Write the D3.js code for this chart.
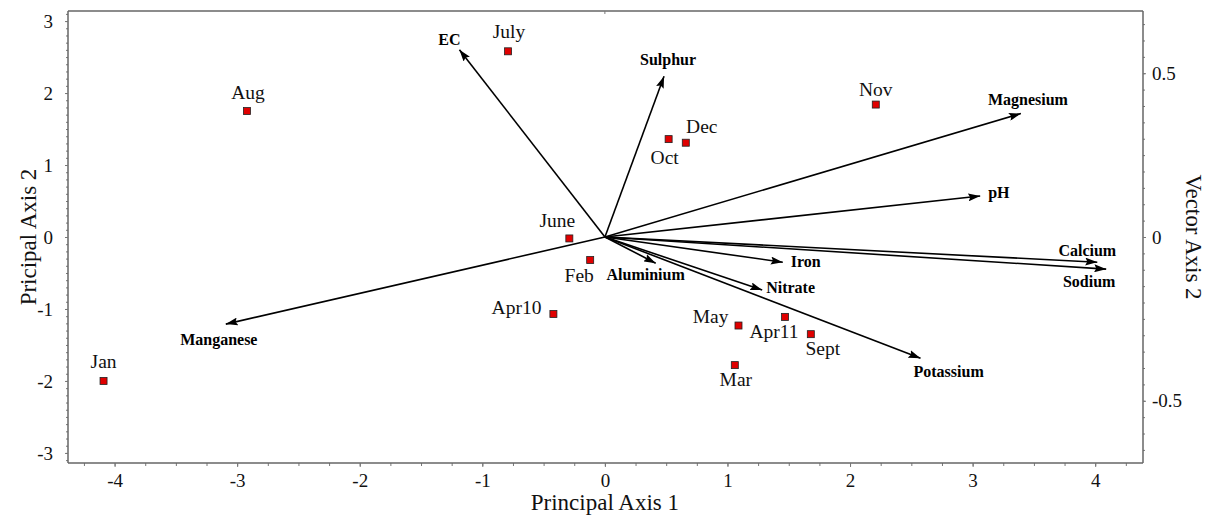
<!DOCTYPE html>
<html>
<head>
<meta charset="utf-8">
<script src="https://cdnjs.cloudflare.com/ajax/libs/d3/7.8.5/d3.min.js"></script>
<style>
  body { margin: 0; background: #fff; }
  svg { display: block; font-family: "Liberation Serif", "Times New Roman", serif; }
  .tick text { font-size: 19px; fill: #111; font-family: "Liberation Serif", "Times New Roman", serif; }
  .domain { stroke: #666; stroke-width: 1.5; }
  .tick line { stroke: #777; }
</style>
</head>
<body>
<svg id="chart"></svg>
<script>
var width = 1214;
var height = 519;

// sample scores (principal axes)
var months = ["Jan", "Aug", "July", "June", "Feb", "Apr10", "May", "Apr11", "Sept", "Mar", "Oct", "Dec", "Nov"];
var axis1 = [-4.09, -2.92, -0.79, -0.29, -0.12, -0.42, 1.09, 1.47, 1.68, 1.06, 0.52, 0.66, 2.21];
var axis2 = [-2.00, 1.75, 2.58, -0.02, -0.32, -1.07, -1.23, -1.11, -1.35, -1.78, 1.36, 1.31, 1.84];

// variable vectors
var variables = ["EC", "Sulphur", "Magnesium", "pH", "Calcium", "Sodium", "Iron", "Nitrate", "Aluminium", "Potassium", "Manganese"];
var vec1 = [-0.261, 0.106, 0.746, 0.673, 0.883, 0.899, 0.319, 0.282, 0.091, 0.566, -0.680];
var vec2 = [0.572, 0.491, 0.377, 0.125, -0.077, -0.098, -0.077, -0.162, -0.080, -0.370, -0.266];

var xTicks = [-4, -3, -2, -1, 0, 1, 2, 3, 4];
var yTicks = [-3, -2, -1, 0, 1, 2, 3];
var vTicks = [-0.5, 0, 0.5];

// label placement (offset from point, text anchor)
var monthLabel = {
  "Jan": [0, -13, "middle"], "Aug": [1, -12, "middle"], "July": [1, -13, "middle"],
  "June": [-12, -11, "middle"], "Feb": [-11, 22, "middle"], "Apr10": [-12, 0, "end"],
  "May": [-10, -3, "end"], "Apr11": [-11, 21, "middle"], "Sept": [12, 21, "middle"],
  "Mar": [1, 21, "middle"], "Oct": [-4, 25, "middle"], "Dec": [16, -10, "middle"],
  "Nov": [0, -9, "middle"]
};
var vecLabel = {
  "EC": [-10, -5, "middle"], "Sulphur": [4, -11, "middle"], "Magnesium": [7, -9, "middle"],
  "pH": [8, 2, "start"], "Calcium": [-10, -6, "middle"], "Sodium": [-17, 18, "middle"],
  "Iron": [8, 5, "start"], "Nitrate": [4, 3, "start"], "Aluminium": [-10, 17, "middle"],
  "Potassium": [-7, 19, "start"], "Manganese": [-7, 21, "middle"]
};

function draw() {
  var pLeft = 68, pRight = 1143, pTop = 11, pBottom = 463;

  var x = d3.scaleLinear().domain([-4.38, 4.39]).range([pLeft, pRight]);
  var y = d3.scaleLinear().domain([-3.14, 3.14]).range([pBottom, pTop]);
  var vx = d3.scaleLinear().domain([-0.963, 0.965]).range([pLeft, pRight]);
  var vy = d3.scaleLinear().domain([-0.69, 0.69]).range([pBottom, pTop]);

  var svg = d3.select("#chart").attr("width", width).attr("height", height);

  svg.append("defs").append("marker")
    .attr("id", "head")
    .attr("viewBox", "0 0 12 8")
    .attr("refX", 12).attr("refY", 4)
    .attr("markerWidth", 12).attr("markerHeight", 8)
    .attr("markerUnits", "userSpaceOnUse")
    .attr("orient", "auto")
    .append("path").attr("d", "M0,0 L12,4 L0,8 L2,4 Z").attr("fill", "#000");

  // frame: top line
  svg.append("line").attr("x1", pLeft).attr("x2", pRight).attr("y1", pTop).attr("y2", pTop)
    .attr("stroke", "#666").attr("stroke-width", 1.5);
  svg.append("line").attr("x1", x(0)).attr("x2", x(0)).attr("y1", pTop).attr("y2", pTop + 3)
    .attr("stroke", "#777");

  function minorTicks(lo, hi, step) {
    var out = [];
    for (var v = lo; v <= hi + 1e-9; v += step) out.push(Math.round(v * 1000) / 1000);
    return out;
  }
  function fmt(d) { return String(d); }

  // bottom axis
  svg.append("g").attr("transform", "translate(0," + pBottom + ")")
    .call(d3.axisBottom(x).tickValues(minorTicks(-4.25, 4.25, 0.25)).tickSize(3).tickFormat(""))
    .call(function (g) { g.select(".domain").remove(); });
  svg.append("g").attr("transform", "translate(0," + pBottom + ")")
    .call(d3.axisBottom(x).tickValues(xTicks).tickSize(4).tickSizeOuter(0).tickPadding(7).tickFormat(fmt))
    .call(function (g) { g.select(".domain").attr("d", "M" + pLeft + ",0H" + pRight); });

  // left axis
  svg.append("g").attr("transform", "translate(" + pLeft + ",0)")
    .call(d3.axisLeft(y).tickValues(minorTicks(-3.1, 3.1, 0.1)).tickSize(2).tickFormat(""))
    .call(function (g) { g.select(".domain").remove(); g.selectAll("line").attr("stroke", "#9aa"); });
  svg.append("g").attr("transform", "translate(" + pLeft + ",0)")
    .call(d3.axisLeft(y).tickValues(yTicks).tickSize(3).tickSizeOuter(0).tickPadding(12).tickFormat(fmt))
    .call(function (g) { g.select(".domain").attr("d", "M0," + pTop + "V" + pBottom); });

  // right axis (vector axis 2)
  svg.append("g").attr("transform", "translate(" + pRight + ",0)")
    .call(d3.axisRight(vy).tickValues(minorTicks(-0.65, 0.65, 0.05)).tickSize(2).tickFormat(""))
    .call(function (g) { g.select(".domain").remove(); g.selectAll("line").attr("stroke", "#9aa"); });
  svg.append("g").attr("transform", "translate(" + pRight + ",0)")
    .call(d3.axisRight(vy).tickValues(vTicks).tickSize(3).tickSizeOuter(0).tickPadding(6).tickFormat(fmt))
    .call(function (g) { g.select(".domain").attr("d", "M0," + pTop + "V" + pBottom); });

  // axis titles
  svg.append("text").attr("x", x(0)).attr("y", 510).attr("text-anchor", "middle")
    .attr("font-size", 23).attr("fill", "#111").text("Principal Axis 1");
  svg.append("text").attr("transform", "translate(36," + y(0) + ") rotate(-90)")
    .attr("text-anchor", "middle").attr("font-size", 23).attr("fill", "#111").text("Pricipal Axis 2");
  svg.append("text").attr("transform", "translate(1186," + y(0) + ") rotate(90)")
    .attr("text-anchor", "middle").attr("font-size", 23).attr("fill", "#111").text("Vector Axis 2");

  // vectors
  var vecData = variables.map(function (d, i) { return { name: d, a: vec1[i], b: vec2[i] }; });

  svg.append("g").selectAll("line").data(vecData).enter().append("line")
    .attr("x1", vx(0)).attr("y1", vy(0))
    .attr("x2", function (d) { return vx(d.a); })
    .attr("y2", function (d) { return vy(d.b); })
    .attr("stroke", "#000").attr("stroke-width", 1.6)
    .attr("marker-end", "url(#head)");

  svg.append("g").selectAll("text").data(vecData).enter().append("text")
    .attr("x", function (d) { return vx(d.a) + vecLabel[d.name][0]; })
    .attr("y", function (d) { return vy(d.b) + vecLabel[d.name][1]; })
    .attr("text-anchor", function (d) { return vecLabel[d.name][2]; })
    .attr("font-size", 16).attr("font-weight", "bold")
    .text(function (d) { return d.name; });

  // sample points
  var pts = months.map(function (d, i) { return { name: d, a: axis1[i], b: axis2[i] }; });

  svg.append("g").selectAll("rect").data(pts).enter().append("rect")
    .attr("x", function (d) { return x(d.a) - 3.5; })
    .attr("y", function (d) { return y(d.b) - 3.5; })
    .attr("width", 7).attr("height", 7)
    .attr("fill", "#e00000").attr("stroke", "#222").attr("stroke-width", 0.8);

  svg.append("g").selectAll("text").data(pts).enter().append("text")
    .attr("x", function (d) { return x(d.a) + monthLabel[d.name][0]; })
    .attr("y", function (d) { return y(d.b) + monthLabel[d.name][1]; })
    .attr("text-anchor", function (d) { return monthLabel[d.name][2]; })
    .attr("font-size", 19.5).attr("fill", "#111")
    .text(function (d) { return d.name; });
}

draw();
</script>
</body>
</html>
